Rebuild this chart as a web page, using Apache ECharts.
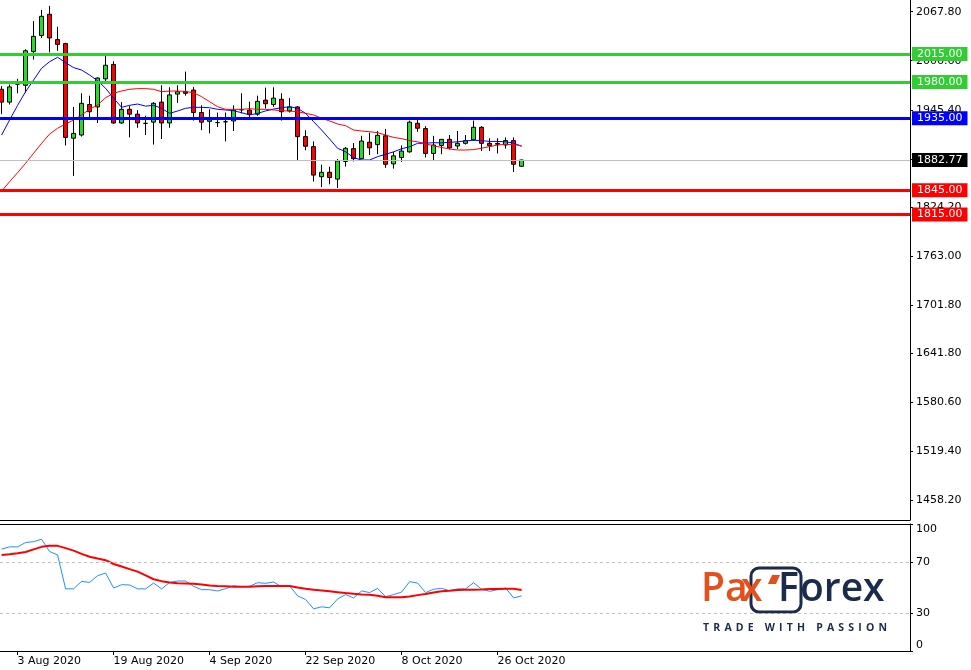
<!DOCTYPE html>
<html><head><meta charset="utf-8">
<script src="https://cdn.jsdelivr.net/npm/echarts@6/dist/echarts.min.js"></script>
<style>html,body{margin:0;padding:0;background:#fff}#c{width:971px;height:670px}</style>
</head><body><div id="c"></div><script>
// ---- data ----
const tickBars = [2, 14, 26, 38, 50, 62];
const tickLabels = ['3 Aug 2020', '19 Aug 2020', '4 Sep 2020', '22 Sep 2020', '8 Oct 2020', '26 Oct 2020'];
const priceTicks = [2067.8, 2006.6, 1945.4, 1884.2, 1824.2, 1763.0, 1701.8, 1641.8, 1580.6, 1519.4, 1458.2];
const rsiTicks = [100, 70, 30, 0];
const rsiLevels = [70, 30];
const resistanceLevels = [2015, 1980];
const pivotLevels = [1935];
const supportLevels = [1845, 1815];
const currentPrice = 1882.77;

const openP  = [1971,1955,1977.5,1976,2018,2038,2064.5,2033,2028,1910,1914,1952,1949,1984,2002,1929,1946,1940,1928.5,1930,1955,1929,1965,1968,1970,1942,1931,1929.5,1930.5,1931.5,1945.5,1945,1940,1957.5,1952,1958.5,1944,1949,1912,1899.5,1862,1867.5,1859,1881,1897,1884.5,1905,1902,1913,1878,1886,1893,1928.6,1922,1891,1901,1908.6,1900.3,1903.6,1908,1923.6,1903.6,1903.5,1901.5,1907,1875];
const closeP = [1955,1974,1977.5,2019,2037,2062,2035,2027,1911,1916,1953.5,1943,1985,2001,1929,1946,1940,1929,1928.5,1953.5,1929,1964,1968,1966,1942,1930,1933,1929.5,1930.5,1945,1945.5,1940,1956,1953,1960,1943,1949,1912,1900,1864,1867.5,1861,1881.6,1897.4,1884.5,1906.5,1898,1913.6,1877.5,1888,1894,1930,1922.4,1891,1901.5,1908.6,1898,1903.6,1907,1923.6,1903.6,1900.7,1902.5,1907,1877.5,1882.77];
const lowP   = [1940,1952,1966,1967,2008,2035,2017,2019,1901,1863,1912,1933,1929,1980,1928,1928,1911,1923,1914,1902,1909,1923,1954,1963,1932,1920,1916,1924,1906,1919,1941,1935,1938,1947,1949,1932,1942,1882,1895,1856,1849,1852.5,1848,1874.5,1881,1883.7,1889,1890,1873,1872,1880.5,1892,1918,1886,1882,1890,1896,1896.5,1902,1907,1894,1894,1891,1897,1868,1874.5];
const highP  = [1975,1977,1984,2021,2056,2070,2075,2049,2029,1949,1966,1963,1986,2013,2006,1955,1950,1945,1938,1955,1976,1973.5,1976,1993,1974,1951,1946,1942,1942,1951,1966,1955.5,1963,1973,1973.5,1966,1960,1950,1920,1906,1877,1874.5,1884,1899,1904,1913,1917,1919,1921.5,1893,1901,1932,1932.7,1925,1913,1909,1914,1919,1914,1932,1925,1910,1910,1911,1911,1883.5];
const maFast = [1914,1932.7,1951,1968,1982.6,1997.2,2005.4,2010.9,2004.2,1998,1995,1988.8,1981.7,1972.2,1959.8,1948.5,1951,1952.6,1950,1951,1947.3,1941,1943.9,1947.3,1948.5,1948.5,1948,1946,1945.2,1944.3,1941.8,1939,1941,1944,1946.4,1948,1949.3,1947.3,1941,1930.6,1920.2,1909,1897.4,1893.2,1885.7,1882.8,1882.8,1887,1890,1893,1896.8,1899.4,1903.6,1903.8,1904.4,1904.2,1904.9,1905.5,1906.7,1907.4,1907,1906,1906,1905.5,1904,1899.8];
const maSlow = [1844,1855.8,1867,1878.7,1891.2,1903.6,1915.2,1922.4,1927.7,1932.7,1939,1946,1951.4,1960.5,1966,1968.9,1971,1971.8,1971.8,1971,1968,1968.8,1968.8,1968.3,1966.7,1961.8,1955.5,1949.3,1946,1946,1946,1946.8,1946,1946,1945.2,1944.3,1943.9,1943,1941,1939,1934.8,1931.5,1927.7,1925.6,1920.2,1919,1918.1,1916.9,1914,1911,1909.5,1907,1905.5,1903,1900.5,1898.5,1896.5,1895.3,1895.3,1895.8,1897.5,1899.5,1901.5,1902.4,1902,1900.7];
const rsi = [80.2,82,82,85.4,86.1,88,78.3,75.7,48.9,49,54.8,54,59.3,61.4,49.6,52.2,52,48.9,48.9,53.5,48.9,54,55.1,55.1,50.9,48.3,48.3,47.3,49.1,51.4,50.6,51,53.8,53.3,54.3,50.6,51.4,43.4,40.5,33.2,34.8,34,41,44.4,41.8,47.3,46,49.3,42.8,44.4,46.4,54.6,53.5,46,48.6,49.3,47.5,48.9,48.9,53.8,48.6,47,48.3,49.6,41.8,43.4];
const rsiSignal = [75.5,76.2,77,78,80,82,82.8,82.8,81,79,76.5,74.2,72.8,71.5,68.5,66.5,64.5,62.5,59.5,56.5,55,54,53.3,53.2,53,52.4,51.6,51.2,50.9,50.6,50.6,50.6,51,51.2,51.2,51.2,51.2,50,49,48.2,47.6,47,46.3,45.6,45,44.5,44.2,43.5,42.3,42.3,42.3,43,44,44.8,46,47,47.5,48.1,48.2,48.3,48.5,48.9,48.9,49.1,49,48.1];

// ---- chart ----
const FONT = 'DejaVu Sans';
const X_MIN = -0.2, X_MAX = 113.55;
const candles = openP.map((o, i) => [i, o, closeP[i], lowP[i], highP[i]]);
const pts = arr => arr.map((v, i) => [i, v]);

const levelLine = (v, color, width) => ({
  yAxis: v,
  lineStyle: { color: color, width: width, type: 'solid' },
  label: { backgroundColor: color }
});
const markData = []
  .concat(resistanceLevels.map(v => levelLine(v, '#32CD32', 3)))
  .concat(pivotLevels.map(v => levelLine(v, '#0000FF', 3)))
  .concat(supportLevels.map(v => levelLine(v, '#FF0000', 3)))
  .concat([levelLine(currentPrice, '#C0C0C0', 1)]);
markData[markData.length - 1].label.backgroundColor = '#000';

const chart = echarts.init(document.getElementById('c'), null, { renderer: 'canvas' });
const axisFont = { fontFamily: FONT, fontSize: 11, color: '#000' };

chart.setOption({
  animation: false,
  backgroundColor: '#fff',
  grid: [
    { left: 0, top: 0, width: 910, height: 520 },
    { left: 0, top: 524, width: 910, height: 127 }
  ],
  xAxis: [
    { gridIndex: 0, type: 'value', min: X_MIN, max: X_MAX, position: 'bottom',
      axisLine: { show: true, onZero: false, lineStyle: { color: '#000', width: 1 } },
      axisTick: { show: false }, axisLabel: { show: false }, splitLine: { show: false } },
    { gridIndex: 1, type: 'value', min: X_MIN, max: X_MAX, position: 'bottom',
      axisLine: { show: true, onZero: false, lineStyle: { color: '#000', width: 1 } },
      axisTick: { show: true, customValues: tickBars, length: 4, lineStyle: { color: '#000' } },
      axisLabel: Object.assign({ customValues: tickBars, align: 'left', margin: 5,
        formatter: v => tickLabels[tickBars.indexOf(v)] || '' }, axisFont),
      splitLine: { show: false } },
    { gridIndex: 1, type: 'value', min: X_MIN, max: X_MAX, position: 'top',
      axisLine: { show: true, onZero: false, lineStyle: { color: '#000', width: 1 } },
      axisTick: { show: false }, axisLabel: { show: false }, splitLine: { show: false } }
  ],
  yAxis: [
    { gridIndex: 0, type: 'value', position: 'right', min: 1433.95, max: 2082.33,
      axisLine: { show: true, onZero: false, lineStyle: { color: '#000', width: 1 } },
      axisTick: { show: true, customValues: priceTicks, length: 3, lineStyle: { color: '#000' } },
      axisLabel: Object.assign({ customValues: priceTicks, margin: 6, formatter: v => v.toFixed(2) }, axisFont),
      splitLine: { show: false } },
    { gridIndex: 1, type: 'value', position: 'right', min: 0, max: 100,
      axisLine: { show: true, onZero: false, lineStyle: { color: '#000', width: 1 } },
      axisTick: { show: true, customValues: rsiTicks, length: 3, lineStyle: { color: '#000' } },
      axisLabel: Object.assign({ customValues: rsiTicks, margin: 6,
        verticalAlignMaxLabel: 'bottom', verticalAlignMinLabel: 'top',
        formatter: v => String(v) }, axisFont),
      splitLine: { show: false } }
  ],
  series: [
    { type: 'candlestick', xAxisIndex: 0, yAxisIndex: 0, data: candles,
      encode: { x: 0, y: [1, 2, 3, 4] }, barWidth: 4,
      itemStyle: { color: '#22DD22', color0: '#FF0000', borderColor: '#000', borderColor0: '#000',
                   borderColorDoji: '#000', borderWidth: 1 },
      markLine: { silent: true, symbol: ['none', 'none'], animation: false,
        label: { show: true, position: 'end', distance: 2, color: '#fff', fontFamily: FONT, fontSize: 11,
                 lineHeight: 12, padding: [1, 5, 1, 5], formatter: p => Number(p.value).toFixed(2) },
        data: markData } },
    { type: 'line', xAxisIndex: 0, yAxisIndex: 0, data: pts(maFast), showSymbol: false, symbol: 'none',
      lineStyle: { color: '#0000FF', width: 1 }, z: 3 },
    { type: 'line', xAxisIndex: 0, yAxisIndex: 0, data: pts(maSlow), showSymbol: false, symbol: 'none',
      lineStyle: { color: '#FF0000', width: 1 }, z: 3 },
    { type: 'line', xAxisIndex: 1, yAxisIndex: 1, data: pts(rsi), showSymbol: false, symbol: 'none',
      lineStyle: { color: '#1E90FF', width: 1 }, z: 3,
      markLine: { silent: true, symbol: ['none', 'none'], animation: false, label: { show: false },
        lineStyle: { color: '#C0C0C0', width: 1, type: [3, 3] },
        data: rsiLevels.map(v => ({ yAxis: v })) } },
    { type: 'line', xAxisIndex: 1, yAxisIndex: 1, data: pts(rsiSignal), showSymbol: false, symbol: 'none',
      lineStyle: { color: '#FF0000', width: 2 }, z: 3 }
  ]
});

// ---- logo ----
const ORANGE = '#E4501C', NAVY = '#1B2B4B';
const logoFont = '600 39px "Open Sans"';
const tagFont = 'bold 10.5px "Open Sans"';
const tag = 'TRADE WITH PASSION';
const mctx = document.createElement('canvas').getContext('2d');
mctx.font = tagFont;
const widths = tag.split('').map(ch => mctx.measureText(ch).width);
const total = widths.reduce((a, b) => a + b, 0);
const gap = (184 - total) / (tag.length - 1);
let cx = 703;
const tagEls = tag.split('').map((ch, i) => {
  const el = { type: 'text', x: cx, y: 628, silent: true,
    style: { text: ch, fill: NAVY, font: tagFont, align: 'left', textAlign: 'left', verticalAlign: 'middle', textVerticalAlign: 'middle' } };
  cx += widths[i] + gap;
  return el;
});
const txt = (t, x, color) => ({ type: 'text', x: x, y: 589.5, silent: true,
  style: { text: t, fill: color, font: logoFont, align: 'left', textAlign: 'left', verticalAlign: 'middle', textVerticalAlign: 'middle' } });
chart.setOption({
  graphic: [
    { type: 'rect', shape: { x: 751, y: 568, width: 50, height: 44, r: 8 }, silent: true,
      style: { fill: 'none', stroke: NAVY, lineWidth: 3 } },
    txt('Pa', 701, ORANGE),
    txt('x', 741, ORANGE),
    { type: 'polygon', silent: true, shape: { points: [[772, 575], [780, 575], [776, 584], [768, 584]] }, style: { fill: ORANGE } },
    txt('F', 778, NAVY),
    txt('orex', 800, NAVY)
  ].concat(tagEls)
});
</script></body></html>
